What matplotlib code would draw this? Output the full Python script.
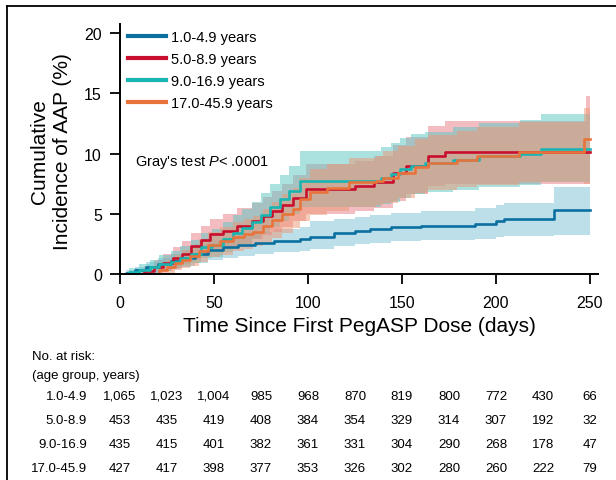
import numpy as np
import matplotlib
matplotlib.use('Agg')
import matplotlib.pyplot as plt
from matplotlib.lines import Line2D

plt.rcParams['font.family'] = ['Liberation Sans', 'DejaVu Sans']
plt.rcParams['mathtext.fontset'] = 'custom'
plt.rcParams['mathtext.it'] = 'Liberation Sans:italic'
plt.rcParams['mathtext.rm'] = 'Liberation Sans'

# ---- data (days, cumulative incidence %) ----
groups = ['1.0-4.9', '5.0-8.9', '9.0-16.9', '17.0-45.9']
legend_labels = ['1.0-4.9 years', '5.0-8.9 years', '9.0-16.9 years', '17.0-45.9 years']

t_blue = [0, 3, 8, 14, 20, 27, 33, 40, 47, 55, 63, 72, 82, 96, 101, 114, 125, 133, 144, 160, 189, 200, 204, 231]
est_blue = [0, 0.1, 0.3, 0.6, 0.8, 1.1, 1.35, 1.7, 2.0, 2.2, 2.4, 2.55, 2.7, 2.9, 3.07, 3.4, 3.55, 3.7, 3.9, 4.0, 4.15, 4.4, 4.55, 5.34]
lo_blue = [0, 0, 0, 0.2, 0.3, 0.5, 0.7, 0.95, 1.2, 1.35, 1.5, 1.65, 1.8, 1.95, 2.1, 2.35, 2.45, 2.55, 2.7, 2.8, 2.9, 3.05, 3.15, 3.2]
hi_blue = [0, 0.3, 0.6, 1.0, 1.3, 1.7, 2.0, 2.5, 2.8, 3.05, 3.3, 3.5, 3.7, 3.9, 4.4, 4.6, 4.75, 4.9, 5.1, 5.25, 5.45, 5.7, 5.9, 7.2]

t_red = [0, 13, 18, 23, 28, 33, 38, 43, 48, 55, 62, 70, 76, 81, 86, 92, 99, 125, 135, 145, 152, 164, 173, 248]
est_red = [0, 0.25, 0.55, 0.9, 1.3, 1.7, 2.3, 2.8, 3.3, 3.6, 4.0, 4.4, 4.8, 5.2, 5.7, 6.3, 7.05, 7.3, 7.66, 8.4, 9.0, 9.8, 10.15, 10.15]
lo_red = [0, 0, 0.05, 0.25, 0.5, 0.8, 1.2, 1.6, 2.0, 2.2, 2.5, 2.9, 3.2, 3.5, 3.9, 4.4, 5.0, 5.2, 5.5, 6.1, 6.6, 7.3, 7.5, 7.5]
hi_red = [0, 0.7, 1.2, 1.7, 2.2, 2.7, 3.4, 4.0, 4.6, 5.0, 5.5, 5.9, 6.4, 6.9, 7.5, 8.2, 9.1, 9.4, 9.8, 10.7, 11.4, 12.3, 12.7, 14.8]

t_teal = [0, 5, 10, 16, 21, 27, 32, 38, 43, 49, 55, 60, 65, 70, 75, 80, 85, 90, 96, 139, 144, 149, 155, 162, 177, 191, 213, 224]
est_teal = [0, 0.15, 0.3, 0.55, 0.8, 1.0, 1.3, 1.7, 2.2, 2.4, 2.9, 3.4, 3.8, 4.3, 4.9, 5.6, 6.2, 6.9, 7.75, 8.0, 8.3, 8.7, 9.0, 9.2, 9.5, 9.8, 10.0, 10.4]
lo_teal = [0, 0, 0, 0.1, 0.25, 0.4, 0.6, 0.9, 1.3, 1.4, 1.8, 2.2, 2.5, 2.9, 3.4, 3.9, 4.4, 5.0, 5.6, 5.8, 6.0, 6.3, 6.6, 6.8, 7.0, 7.2, 7.4, 7.6]
hi_teal = [0, 0.5, 0.8, 1.2, 1.6, 1.9, 2.3, 2.8, 3.4, 3.7, 4.3, 4.9, 5.4, 6.0, 6.7, 7.5, 8.2, 9.0, 10.2, 10.5, 10.9, 11.3, 11.6, 11.8, 12.2, 12.5, 12.8, 13.3]

t_orange = [0, 21, 25, 29, 33, 37, 42, 47, 53, 60, 66, 71, 76, 81, 86, 92, 96, 101, 110, 122, 136, 140, 148, 157, 164, 179, 190, 212, 247]
est_orange = [0, 0.3, 0.6, 0.9, 1.2, 1.5, 1.9, 2.4, 2.7, 3.05, 3.3, 3.5, 4.0, 4.5, 5.0, 5.4, 6.2, 6.8, 7.1, 7.6, 7.7, 8.0, 8.4, 8.9, 9.2, 9.5, 9.8, 10.1, 11.2]
lo_orange = [0, 0, 0.1, 0.3, 0.5, 0.7, 1.0, 1.4, 1.6, 1.9, 2.1, 2.3, 2.6, 3.0, 3.4, 3.8, 4.4, 4.9, 5.2, 5.6, 5.7, 5.9, 6.3, 6.7, 7.0, 7.2, 7.4, 7.6, 7.5]
hi_orange = [0, 0.8, 1.2, 1.6, 2.0, 2.4, 2.9, 3.5, 3.9, 4.3, 4.6, 4.8, 5.4, 6.0, 6.6, 7.1, 8.0, 8.7, 9.1, 9.6, 9.8, 10.2, 10.6, 11.2, 11.5, 11.9, 12.2, 12.6, 13.8]

risk_days = [0, 25, 50, 75, 100, 125, 150, 175, 200, 225, 250]
risk_blue = ['1,065', '1,023', '1,004', '985', '968', '870', '819', '800', '772', '430', '66']
risk_red = ['453', '435', '419', '408', '384', '354', '329', '314', '307', '192', '32']
risk_teal = ['435', '415', '401', '382', '361', '331', '304', '290', '268', '178', '47']
risk_orange = ['427', '417', '398', '377', '353', '326', '302', '280', '260', '222', '79']

t_end = 250

line_colors = ['#0b6fa0', '#c8102e', '#19b5b0', '#e8743b']
band_colors = ['#7bc1d5', '#e97a85', '#58c7c3', '#ef9673']

series = [
    (t_blue, est_blue, lo_blue, hi_blue),
    (t_red, est_red, lo_red, hi_red),
    (t_teal, est_teal, lo_teal, hi_teal),
    (t_orange, est_orange, lo_orange, hi_orange),
]
risk_rows = [risk_blue, risk_red, risk_teal, risk_orange]

W, H = 616, 481
fig = plt.figure(figsize=(W / 100, H / 100), dpi=100)
ax = fig.add_axes([120 / W, (H - 275) / H, 477.5 / W, 250 / H])

for (t, e, lo, hi), bc in zip(series, band_colors):
    tt = np.append(t, t_end)
    ax.fill_between(tt, np.append(lo, lo[-1]), np.append(hi, hi[-1]),
                    step='post', color=bc, alpha=0.5, linewidth=0)

for (t, e, lo, hi), lc in zip(series, line_colors):
    tt = np.append(t, t_end)
    ax.step(tt, np.append(e, e[-1]), where='post', color=lc, linewidth=1.9)

ax.set_xlim(0, 254)
ax.set_ylim(0, 20.75)
ax.set_xticks([0, 50, 100, 150, 200, 250])
ax.set_yticks([0, 5, 10, 15, 20])
for s in ['top', 'right']:
    ax.spines[s].set_visible(False)
for s in ['left', 'bottom']:
    ax.spines[s].set_linewidth(1.4)
ax.tick_params(axis='both', direction='out', length=7, width=1.3, labelsize=11.5, pad=6)
ax.tick_params(axis='x', pad=8)

handles = [Line2D([], [], color=c, linewidth=3) for c in line_colors]
ax.legend(handles, legend_labels, loc='upper left', bbox_to_anchor=(0.017, 0.977),
          frameon=False, fontsize=10.5, handlelength=2.6, handletextpad=0.35,
          labelspacing=0.55, borderpad=0, borderaxespad=0)

ax.text(8, 9.3, "Gray's test $P$< .0001", fontsize=10.5, va='center', ha='left')

# axis titles
fig.text(51 / W, 1 - 152 / H, 'Cumulative\nIncidence of AAP (%)', rotation=90,
         ha='center', va='center', fontsize=15, multialignment='center', linespacing=1.25)
fig.text(359 / W, 1 - 327 / H, 'Time Since First PegASP Dose (days)',
         ha='center', va='center', fontsize=15)

# number at risk table
fig.text(32 / W, 1 - 357 / H, 'No. at risk:', ha='left', va='center', fontsize=9.5)
fig.text(32 / W, 1 - 376 / H, '(age group, years)', ha='left', va='center', fontsize=9.5)
row_y = [397, 421, 445, 469]
for g, row, y in zip(groups, risk_rows, row_y):
    fig.text(87 / W, 1 - y / H, g, ha='right', va='center', fontsize=9.5)
    for d, n in zip(risk_days, row):
        xf = ax.transData.transform((d, 0))[0] / fig.bbox.width
        fig.text(xf, 1 - y / H, n, ha='center', va='center', fontsize=9.5)

# frame lines (top and left) around the figure
fig.add_artist(Line2D([7 / W, 1], [1 - 7 / H, 1 - 7 / H], color='black', linewidth=1.3))
fig.add_artist(Line2D([7 / W, 7 / W], [0, 1 - 7 / H], color='black', linewidth=1.3))

fig.savefig('out.png', dpi=100)
